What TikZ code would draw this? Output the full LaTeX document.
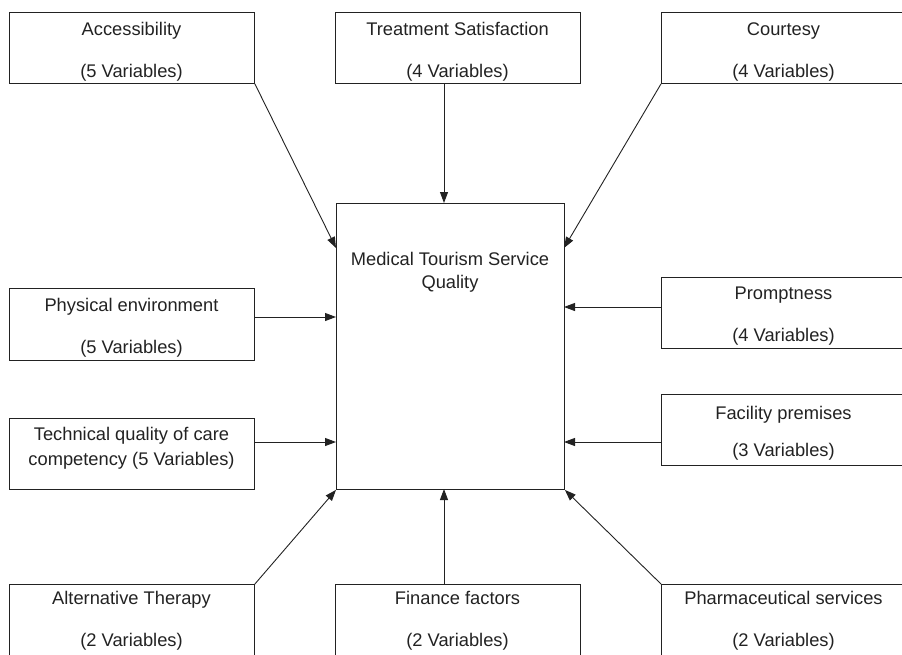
\documentclass[tikz,border=0pt]{standalone}
\usepackage{fontspec}
\setmainfont{Liberation Sans}
\usetikzlibrary{arrows.meta}
\definecolor{ink}{HTML}{222222}
\begin{document}
\begin{tikzpicture}[x=1pt,y=-1pt,
  box/.style={draw=ink, line width=0.9pt, rectangle, inner sep=0pt, align=center,
    text=ink, font=\fontsize{18.3}{21}\selectfont},
  conn/.style={draw=ink, line width=0.9pt, -{Triangle[length=11pt,width=8pt]}}
]
\useasboundingbox (0,0) rectangle (902,654);
\clip (0,0) rectangle (902,654);
% top row
\node[box, minimum width=245, minimum height=71, anchor=north west] (acc) at (9,12) {};
\node[box, draw=none] at (131.5,52) {Accessibility\\[21pt](5 Variables)};
\node[box, minimum width=245, minimum height=71, anchor=north west] (treat) at (335,12) {};
\node[box, draw=none] at (457.5,52) {Treatment Satisfaction\\[21pt](4 Variables)};
\node[box, minimum width=245, minimum height=71, anchor=north west] (court) at (661,12) {};
\node[box, draw=none] at (783.5,52) {Courtesy\\[21pt](4 Variables)};
% centre
\node[box, minimum width=228, minimum height=286, anchor=north west] (q) at (336,203) {};
\node[box, draw=none, font=\fontsize{18.3}{23}\selectfont] at (450,272) {Medical Tourism Service\\Quality};
% left side
\node[box, minimum width=245, minimum height=72, anchor=north west] (phys) at (9,288) {};
\node[box, draw=none] at (131.5,328) {Physical environment\\[21pt](5 Variables)};
\node[box, minimum width=245, minimum height=71, anchor=north west] (tech) at (9,418) {};
\node[box, draw=none, font=\fontsize{18.3}{25}\selectfont] at (131.5,448.5) {Technical quality of care\\competency (5 Variables)};
% right side
\node[box, minimum width=245, minimum height=71, anchor=north west] (prompt) at (661,277) {};
\node[box, draw=none] at (783.5,316) {Promptness\\[21pt](4 Variables)};
\node[box, minimum width=245, minimum height=71, anchor=north west] (fac) at (661,394) {};
\node[box, draw=none] at (783.5,433) {Facility premises\\[16pt](3 Variables)};
% bottom row
\node[box, minimum width=245, minimum height=80, anchor=north west] (alt) at (9,584) {};
\node[box, draw=none] at (131.5,621) {Alternative Therapy\\[21pt](2 Variables)};
\node[box, minimum width=245, minimum height=80, anchor=north west] (fin) at (335,584) {};
\node[box, draw=none] at (457.5,621) {Finance factors\\[21pt](2 Variables)};
\node[box, minimum width=245, minimum height=80, anchor=north west] (pharm) at (661,584) {};
\node[box, draw=none] at (783.5,621) {Pharmaceutical services\\[21pt](2 Variables)};
% connector end points on the centre box
\coordinate (qL1) at (336,248);
\coordinate (qR1) at (564,248);
\coordinate (qT) at (444,203);
\coordinate (qB) at (444,489);
\coordinate (qL2) at (336,317);
\coordinate (qL3) at (336,442);
\coordinate (qR2) at (564,307);
\coordinate (qR3) at (564,442);
% connectors
\draw[conn] (acc.south east) -- (qL1);
\draw[conn] (qT |- treat.south) -- (qT);
\draw[conn] (court.south west) -- (qR1);
\draw[conn] (phys.east |- qL2) -- (qL2);
\draw[conn] (tech.east |- qL3) -- (qL3);
\draw[conn] (prompt.west |- qR2) -- (qR2);
\draw[conn] (fac.west |- qR3) -- (qR3);
\draw[conn] (alt.north east) -- (q.south west);
\draw[conn] (qB |- fin.north) -- (qB);
\draw[conn] (pharm.north west) -- (q.south east);
\end{tikzpicture}
\end{document}
